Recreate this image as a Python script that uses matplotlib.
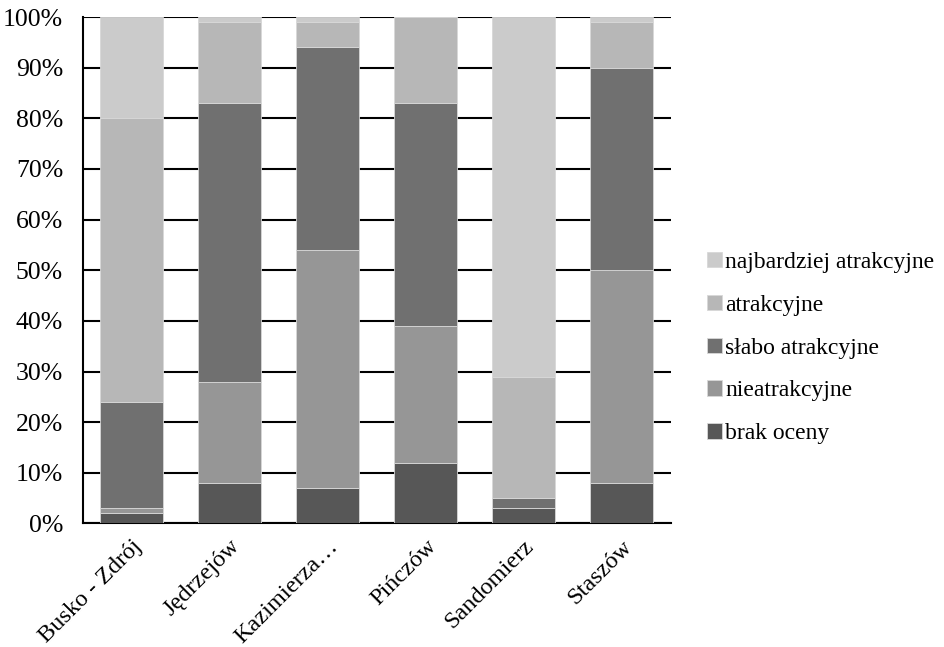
import numpy as np
import matplotlib
matplotlib.use("Agg")
import matplotlib.pyplot as plt
from matplotlib.ticker import PercentFormatter

# ── Data (percent shares, bottom to top) ───────────────────────
cities = ["Busko - Zdrój", "Jędrzejów", "Kazimierza…", "Pińczów", "Sandomierz", "Staszów"]
brak_oceny = [2, 8, 7, 12, 3, 8]
nieatrakcyjne = [1, 20, 47, 27, 0, 42]
slabo_atrakcyjne = [21, 55, 40, 44, 2, 40]
atrakcyjne = [56, 16, 5, 17, 24, 9]
najbardziej = [20, 1, 1, 0, 71, 1]

series = [
    ("brak oceny", brak_oceny, "#575757"),
    ("nieatrakcyjne", nieatrakcyjne, "#969696"),
    ("słabo atrakcyjne", slabo_atrakcyjne, "#707070"),
    ("atrakcyjne", atrakcyjne, "#b7b7b7"),
    ("najbardziej atrakcyjne", najbardziej, "#cbcbcb"),
]

plt.rcParams.update({
    "font.family": ["Liberation Serif", "DejaVu Serif"],
    "font.size": 17,
})

fig = plt.figure(figsize=(9.44, 6.47), dpi=100)
ax = fig.add_axes([0.0874, 0.1909, 0.6229, 0.7828])

x = np.arange(len(cities))
bottom = np.zeros(len(cities))
handles = []
for label, vals, color in series:
    vals = np.array(vals, dtype=float)
    b = ax.bar(x, vals, bottom=bottom, width=0.643, color=color,
               edgecolor="#d8d8d8", linewidth=0.6, label=label, zorder=3)
    handles.append(b)
    bottom += vals

ax.set_xlim(-0.5, len(cities) - 0.5)
ax.set_ylim(0, 100)
ax.set_yticks(np.arange(0, 101, 10))
ax.yaxis.set_major_formatter(PercentFormatter(decimals=0))
ax.grid(axis="y", color="black", linewidth=1.5, zorder=0)
ax.set_axisbelow(True)

for side in ["top", "right"]:
    ax.spines[side].set_visible(False)
ax.spines["left"].set_linewidth(1.5)
ax.spines["bottom"].set_linewidth(1.5)
ax.tick_params(axis="y", length=0, labelsize=18.5, pad=14)
ax.tick_params(axis="x", length=0, labelsize=17.5, pad=9)

ax.set_xticks(x)
ax.set_xticklabels(cities, rotation=45, ha="right", rotation_mode="anchor")

ax.legend(handles[::-1], [s[0] for s in series][::-1],
          loc="center left", bbox_to_anchor=(0.739, 0.462),
          bbox_transform=fig.transFigure, frameon=False,
          fontsize=17, handlelength=0.64, handleheight=0.64,
          handletextpad=0.12, labelspacing=0.92, borderaxespad=0)

fig.savefig("out.png", dpi=100)
